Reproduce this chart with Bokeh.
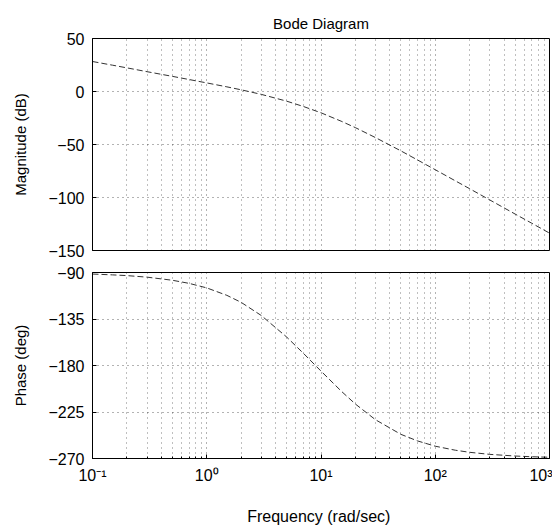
from bokeh.plotting import figure
from bokeh.layouts import column
from bokeh.models import FixedTicker
from bokeh.embed import file_html
from bokeh.resources import INLINE

# Values
freq = [0.1, 0.15, 0.2, 0.3, 0.5, 0.7, 1, 1.5, 2, 3, 5, 7, 10, 15, 20, 30, 50, 70,
        100, 150, 200, 300, 500, 700, 1000]
magnitude_db = [28.3, 24.8, 22.3, 18.7, 14.3, 11.3, 8.1, 4.4, 1.6, -2.7, -9.1, -14.1,
                -20.1, -28.0, -34.1, -43.5, -56.0, -64.6, -73.8, -84.3, -91.7, -102.3,
                -115.6, -124.3, -133.6]
phase_deg = [-91.5, -92.3, -93.0, -94.5, -97.5, -100.5, -104.9, -112.1, -118.9, -131.6,
             -152.4, -168.1, -185.4, -204.7, -217.3, -232.5, -246.6, -253.0, -258.1,
             -262.0, -264.0, -266.0, -267.6, -268.3, -268.8]

x_ticks = [0.1, 1, 10, 100, 1000]
x_tick_labels = ["10\u207b\u00b9", "10\u2070", "10\u00b9", "10\u00b2", "10\u00b3"]
mag_ticks = [50, 0, -50, -100, -150]
phase_ticks = [-90, -135, -180, -225, -270]

minor = [m * 10.0 ** e for e in range(-1, 3) for m in range(2, 10)]
FONT = "Liberation Sans"


def style(p, yticks):
    p.xaxis.ticker = FixedTicker(ticks=x_ticks, minor_ticks=minor)
    p.xaxis.major_label_overrides = {t: l for t, l in zip(x_ticks, x_tick_labels)}
    p.yaxis.ticker = FixedTicker(ticks=yticks)
    for ax in (p.xaxis[0], p.yaxis[0]):
        ax.major_tick_in = 4
        ax.major_tick_out = 0
        ax.minor_tick_in = 2
        ax.minor_tick_out = 0
        ax.axis_line_color = "black"
        ax.major_tick_line_color = "black"
        ax.minor_tick_line_color = "black"
        ax.major_label_text_font = FONT
        ax.major_label_text_font_size = "16px"
        ax.major_label_text_color = "black"
        ax.axis_label_text_font = FONT
        ax.axis_label_text_font_size = "15px"
        ax.axis_label_text_font_style = "normal"
        ax.axis_label_text_color = "black"
    p.yaxis.minor_tick_line_color = None
    p.yaxis.major_label_standoff = 8
    p.yaxis.axis_label_standoff = 16
    for g in (p.xgrid[0], p.ygrid[0]):
        g.grid_line_color = "black"
        g.grid_line_dash = "1 4"
        g.grid_line_alpha = 0.6
    p.xgrid.minor_grid_line_color = "black"
    p.xgrid.minor_grid_line_dash = "1 4"
    p.xgrid.minor_grid_line_alpha = 0.5
    p.outline_line_color = "black"
    p.outline_line_width = 1
    p.background_fill_color = "white"
    p.border_fill_color = "white"


p1 = figure(width=552, height=258, x_axis_type="log", x_range=(0.1, 1000),
            y_range=(-150, 50), output_backend="svg", toolbar_location=None,
            min_border_left=92, min_border_right=3, min_border_top=38,
            min_border_bottom=8, title="Bode Diagram")
style(p1, mag_ticks)
p1.yaxis.axis_label = "Magnitude (dB)"
p1.xaxis.visible = False
p1.title.align = "center"
p1.title.vertical_align = "top"
p1.title.text_font = FONT
p1.title.text_font_size = "15px"
p1.title.text_font_style = "normal"
p1.title.text_color = "black"
p1.title.standoff = 10
p1.line(freq, magnitude_db, line_color="#333333", line_width=1, line_dash="6 3")

p2 = figure(width=552, height=269, x_axis_type="log", x_range=(0.1, 1000),
            y_range=(-270, -90), output_backend="svg", toolbar_location=None,
            min_border_left=92, min_border_right=3, min_border_top=14,
            min_border_bottom=68)
style(p2, phase_ticks)
p2.yaxis.axis_label = "Phase (deg)"
p2.xaxis.axis_label = "Frequency  (rad/sec)"
p2.xaxis.axis_label_text_font_size = "16px"
p2.xaxis.major_label_standoff = 8
p2.xaxis.axis_label_standoff = 21
p2.line(freq, phase_deg, line_color="#333333", line_width=1, line_dash="6 3")

layout = column(p1, p2, spacing=0)
open("out.html", "w").write(file_html(layout, INLINE))
